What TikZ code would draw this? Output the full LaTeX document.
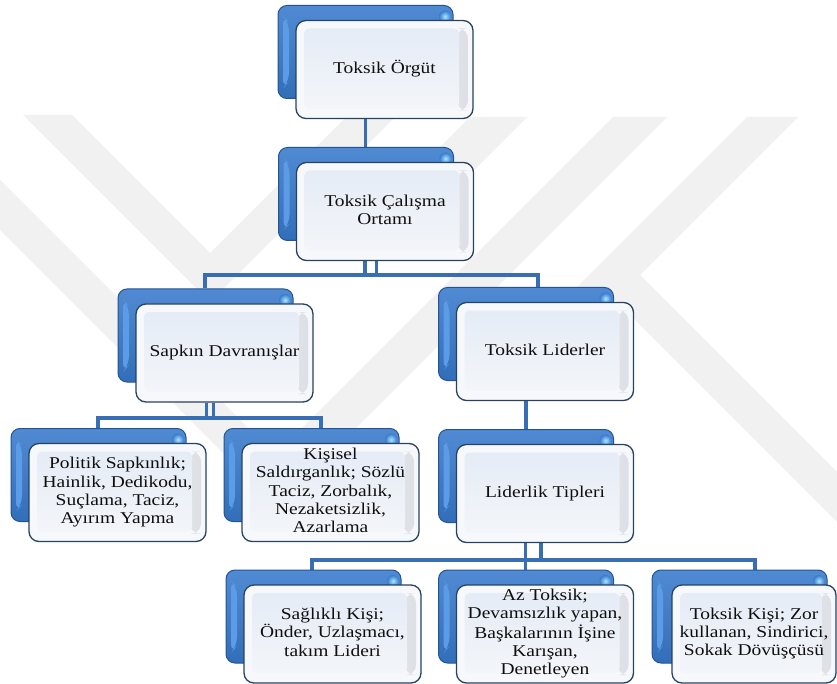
\documentclass[tikz,border=0pt]{standalone}
\usepackage{fontspec}
\usepackage{graphicx}
\setmainfont{Liberation Serif}
\definecolor{bkblue}{RGB}{56,122,204}
\definecolor{bkedge}{RGB}{36,84,150}
\definecolor{bklight}{RGB}{92,156,230}
\definecolor{bkglow}{RGB}{170,228,255}
\definecolor{frbase}{RGB}{246,248,251}
\definecolor{frface}{RGB}{229,236,246}
\definecolor{frfacelow}{RGB}{243,245,249}
\definecolor{fredge}{RGB}{40,66,100}
\definecolor{frbevel}{RGB}{220,223,228}
\definecolor{linkblue}{RGB}{58,110,180}
\definecolor{wmgray}{RGB}{241,241,241}
\definecolor{txt}{RGB}{15,15,15}
\pgfdeclarelayer{wm}
\pgfdeclarelayer{links}
\pgfsetlayers{wm,links,main}
% box labels: serif text, slightly widened, lines centred
\newcommand{\boxtext}[1]{\scalebox{1.18}[1]{\begin{tabular}{@{}c@{}}#1\end{tabular}}}
\begin{document}
\begin{tikzpicture}[x=1pt,y=-1pt,
  backbox/.style={rectangle, rounded corners=9pt, inner sep=0pt,
    minimum width=175pt, minimum height=93pt,
    top color=bkblue!88!white, bottom color=bkblue!90!black,
    draw=bkedge, line width=1pt,
    path picture={
      \fill[bklight]
        ([xshift=5pt,yshift=-10pt]path picture bounding box.north west) --
        ([xshift=11pt,yshift=-17pt]path picture bounding box.north west) --
        ([xshift=11pt,yshift=17pt]path picture bounding box.south west) --
        ([xshift=5pt,yshift=10pt]path picture bounding box.south west) -- cycle;
      \shade[inner color=bkglow, outer color=bkblue]
        ([xshift=-8pt,yshift=-11pt]path picture bounding box.north east) circle (6pt);
    }},
  frontbox/.style={rectangle, rounded corners=10pt, inner sep=0pt,
    minimum width=177pt, minimum height=98pt,
    font=\fontsize{16.5}{18.3}\selectfont, text=txt,
    fill=frbase, draw=fredge, line width=1.3pt,
    path picture={
      \shade[left color=frbase, right color=frbevel]
        ([xshift=-16pt,yshift=-8pt]path picture bounding box.north east) rectangle
        ([xshift=-5pt,yshift=8pt]path picture bounding box.south east);
      \shade[top color=frface, bottom color=frfacelow, rounded corners=5pt]
        ([xshift=8pt,yshift=-8pt]path picture bounding box.north west) rectangle
        ([xshift=-14pt,yshift=10pt]path picture bounding box.south east);
    }},
  link/.style={draw=linkblue, line width=3.8pt}
]
\useasboundingbox (0,0) rectangle (837,684);

% faint watermark bands behind the chart
\begin{pgfonlayer}{wm}
  \fill[white] (0,0) rectangle (837,684);
  \begin{scope}
    \clip (0,0) rectangle (837,684);
    \fill[wmgray] (23,115) -- (72,115) -- (210,253) -- (348,115) -- (397,115) -- (210,302) -- cycle;
    \fill[wmgray] (-20,160) -- (275,455) -- (613,117) -- (667,117) -- (277,507) -- (-20,210) -- cycle;
    \fill[wmgray] (470,117) -- (527,117) -- (394,250) -- (337,250) -- cycle;
    \fill[wmgray] (747,117) -- (798,117) -- (585,330) -- (534,330) -- cycle;
    \fill[wmgray] (640,275) -- (900,535) -- (900,585) -- (615,300) -- cycle;
  \end{scope}
\end{pgfonlayer}

% level 1
\node[backbox] (n1b) at (365.5,52) {};
\node[frontbox] (n1f) at (384.5,69.5) {\boxtext{Toksik Örgüt}};
% level 2
\node[backbox] (n2b) at (366,194) {};
\node[frontbox] (n2f) at (385,211.5) {\boxtext{Toksik Çalışma\\Ortamı}};
% level 3
\node[backbox] (n3Lb) at (205.5,335.5) {};
\node[frontbox] (n3Lf) at (224.5,353) {\boxtext{Sapkın Davranışlar}};
\node[backbox] (n3Rb) at (526,334) {};
\node[frontbox] (n3Rf) at (545,351.5) {\boxtext{Toksik Liderler}};
% level 4
\node[backbox] (n4Ab) at (98.5,475) {};
\node[frontbox] (n4Af) at (117.5,492.5) {\boxtext{Politik Sapkınlık;\\Hainlik, Dedikodu,\\Suçlama, Taciz,\\Ayırım Yapma}};
\node[backbox] (n4Bb) at (311.5,475) {};
\node[frontbox] (n4Bf) at (330.5,492.5) {\boxtext{Kişisel\\Saldırganlık; Sözlü\\Taciz, Zorbalık,\\Nezaketsizlik,\\Azarlama}};
\node[backbox] (n4Cb) at (526,476) {};
\node[frontbox] (n4Cf) at (545,493.5) {\boxtext{Liderlik Tipleri}};
% level 5
\node[backbox] (n5Ab) at (313.5,616.5) {};
\node[frontbox] (n5Af) at (332.5,634) {\boxtext{Sağlıklı Kişi;\\Önder, Uzlaşmacı,\\takım Lideri}};
\node[backbox] (n5Bb) at (526,616.5) {};
\node[frontbox] (n5Bf) at (545,634) {\boxtext{Az Toksik;\\Devamsızlık yapan,\\Başkalarının İşine\\Karışan,\\Denetleyen}};
\node[backbox] (n5Cb) at (739.5,616.5) {};
\node[frontbox, minimum width=164pt] (n5Cf) at (754,634) {\boxtext{Toksik Kişi; Zor\\kullanan, Sindirici,\\Sokak Dövüşçüsü}};

% connector junctions
\coordinate (k2a) at (365,275);
\coordinate (k2b) at (376.5,275);
\coordinate (k3L) at (205,275);
\coordinate (k3R) at (538,275);
\coordinate (k3a) at (206.5,418);
\coordinate (k3b) at (213.5,418);
\coordinate (k4A) at (98,418);
\coordinate (k4B) at (321,418);
\coordinate (k5a) at (525.5,560);
\coordinate (k5b) at (541,560);
\coordinate (k5A) at (312,560);
\coordinate (k5C) at (755,560);

\begin{pgfonlayer}{links}
  \draw[link] (n1f.south -| n1b.south) -- (n2b.north -| n1b.south);
  \draw[link] (n2f.south -| k2a) -- (k2a);
  \draw[link] (n2f.south -| k2b) -- (k2b);
  \draw[link] (n3Lb.north -| k3L) -- (k3L) -- (k3R) -- (n3Rb.north -| k3R);
  \draw[link] (n3Lf.south -| k3a) -- (k3a);
  \draw[link] (n3Lf.south -| k3b) -- (k3b);
  \draw[link] (n4Ab.north -| k4A) -- (k4A) -- (k4B) -- (n4Bb.north -| k4B);
  \draw[link] (n3Rf.south -| n4Cb.north) -- (n4Cb.north);
  \draw[link] (n4Cf.south -| k5a) -- (k5a) -- (n5Bb.north -| k5a);
  \draw[link] (n4Cf.south -| k5b) -- (k5b);
  \draw[link] (n5Ab.north -| k5A) -- (k5A) -- (k5C) -- (n5Cb.north -| k5C);
\end{pgfonlayer}
\end{tikzpicture}
\end{document}
